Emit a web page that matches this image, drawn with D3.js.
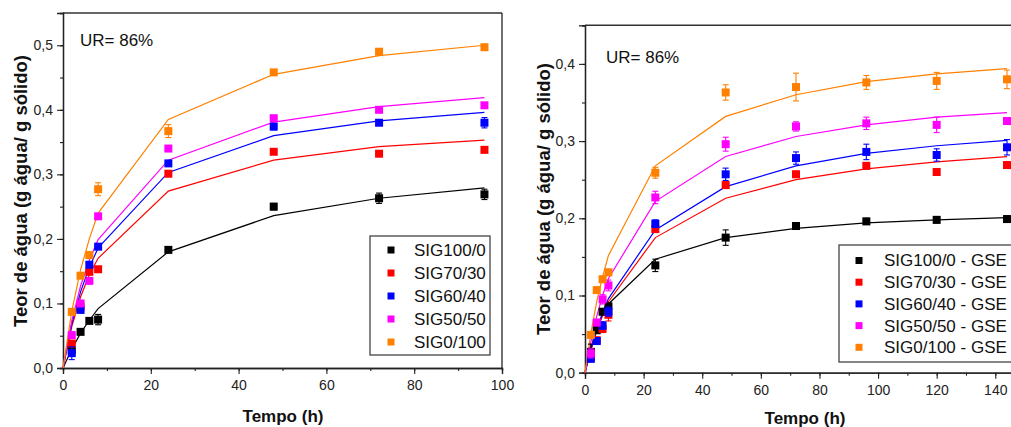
<!DOCTYPE html>
<html><head><meta charset="utf-8">
<script src="https://cdn.jsdelivr.net/npm/d3@7"></script>
<style>body{margin:0;background:#fff;} svg{display:block;font-family:"Liberation Sans",Arial,sans-serif;}</style>
</head><body>
<svg id="chart" width="1011" height="427"></svg>
<script>
// ---------- DATA ----------
const seriesNames = ["SIG100/0","SIG70/30","SIG60/40","SIG50/50","SIG0/100"];
const seriesColors = ["#000000","#ff0000","#0000ff","#ff00ff","#ff8000"];

// Left panel (without GSE)
const leftTimes = [2,4,6,8,24,48,72,96];
const leftFitTimes = [0,2,4,6,8,24,48,72,96];
const leftPts = {
  "SIG100/0": [0.028,0.056,0.073,0.075,0.183,0.250,0.263,0.269],
  "SIG70/30": [0.038,0.095,0.149,0.153,0.301,0.335,0.332,0.338],
  "SIG60/40": [0.023,0.090,0.160,0.188,0.317,0.374,0.380,0.380],
  "SIG50/50": [0.051,0.100,0.135,0.235,0.340,0.387,0.400,0.407],
  "SIG0/100": [0.087,0.143,0.175,0.277,0.367,0.458,0.490,0.497]
};
const leftErr = {
  "SIG100/0": [0.005,0.003,0.004,0.008,0.004,0.005,0.008,0.008],
  "SIG70/30": [0.004,0.003,0.004,0.004,0.004,0.004,0.004,0.004],
  "SIG60/40": [0.010,0.004,0.004,0.004,0.004,0.005,0.004,0.008],
  "SIG50/50": [0.004,0.004,0.004,0.004,0.003,0.004,0.004,0.004],
  "SIG0/100": [0.003,0.003,0.004,0.010,0.010,0.004,0.004,0.004]
};
const leftFit = {
  "SIG100/0": [0,0.029,0.054,0.074,0.092,0.180,0.236,0.263,0.279],
  "SIG70/30": [0,0.064,0.110,0.145,0.170,0.274,0.322,0.343,0.353],
  "SIG60/40": [0,0.068,0.118,0.156,0.186,0.303,0.360,0.383,0.396],
  "SIG50/50": [0,0.073,0.127,0.167,0.199,0.322,0.381,0.405,0.419],
  "SIG0/100": [0,0.088,0.152,0.200,0.240,0.385,0.455,0.484,0.500]
};

// Right panel (GSE)
const rightTimes = [2,4,6,8,24,48,72,96,120,144];
const rightFitTimes = [0,2,4,6,8,24,48,72,96,120,144];
const rightPts = {
  "SIG100/0": [0.027,0.055,0.079,0.086,0.139,0.175,0.190,0.196,0.198,0.199],
  "SIG70/30": [0.020,0.042,0.057,0.075,0.186,0.243,0.257,0.268,0.260,0.269],
  "SIG60/40": [0.018,0.041,0.061,0.079,0.193,0.257,0.278,0.286,0.282,0.292],
  "SIG50/50": [0.025,0.065,0.095,0.113,0.227,0.296,0.319,0.323,0.321,0.326],
  "SIG0/100": [0.049,0.107,0.121,0.130,0.259,0.363,0.370,0.376,0.378,0.380]
};
const rightErr = {
  "SIG100/0": [0.010,0.004,0.004,0.004,0.008,0.010,0.004,0.004,0.004,0.004],
  "SIG70/30": [0.004,0.004,0.005,0.008,0.004,0.004,0.004,0.004,0.004,0.004],
  "SIG60/40": [0.004,0.004,0.005,0.006,0.005,0.008,0.008,0.010,0.008,0.010],
  "SIG50/50": [0.006,0.004,0.006,0.007,0.008,0.009,0.006,0.008,0.010,0.004],
  "SIG0/100": [0.004,0.004,0.004,0.004,0.007,0.010,0.018,0.009,0.011,0.012]
};
const rightFit = {
  "SIG100/0": [0,0.032,0.056,0.075,0.089,0.147,0.175,0.187,0.194,0.198,0.201],
  "SIG70/30": [0,0.029,0.054,0.074,0.092,0.175,0.226,0.250,0.264,0.273,0.280],
  "SIG60/40": [0,0.030,0.056,0.078,0.096,0.185,0.241,0.268,0.284,0.294,0.301],
  "SIG50/50": [0,0.040,0.073,0.100,0.122,0.222,0.280,0.306,0.321,0.331,0.337],
  "SIG0/100": [0,0.051,0.092,0.124,0.152,0.268,0.332,0.360,0.377,0.387,0.394]
};

const leftXTicks = [0,20,40,60,80,100];
const leftYTicks = [0,0.1,0.2,0.3,0.4,0.5];
const rightXTicks = [0,20,40,60,80,100,120,140];
const rightYTicks = [0,0.1,0.2,0.3,0.4];
const yTitle = "Teor de água (g água/ g sólido)";
const xTitle = "Tempo (h)";
const urLabel = "UR= 86%";
const leftLegendSuffix = "";
const rightLegendSuffix = " - GSE";

// ---------- DRAW ----------
const svg = d3.select("#chart");
const fmt = d => d3.format(".1f")(d).replace(".", ",");

function panel(cfg) {
  const x = d3.scaleLinear().domain(cfg.xDomain).range(cfg.xRange);
  const y = d3.scaleLinear().domain(cfg.yDomain).range(cfg.yRange);
  const g = svg.append("g");

  // frame
  const [x0, x1] = cfg.xRange, [yb, yt] = cfg.yRange;
  g.append("line").attr("x1", x0).attr("x2", x1).attr("y1", yt).attr("y2", yt)
    .attr("stroke", "#333").attr("stroke-width", 1.6);
  g.append("line").attr("x1", x1).attr("x2", x1).attr("y1", yt).attr("y2", yb)
    .attr("stroke", "#222").attr("stroke-width", 1.3);

  // minor ticks
  const xMinor = d3.range(cfg.xDomain[0], cfg.xDomain[1] + 0.001, 10);
  const yMinor = d3.range(0, cfg.yDomain[1] + 0.0001, 0.05);
  g.append("g").attr("transform", `translate(0,${yb})`)
    .call(d3.axisBottom(x).tickValues(xMinor).tickSize(3).tickFormat(""));
  g.append("g").attr("transform", `translate(${x0},0)`)
    .call(d3.axisLeft(y).tickValues(yMinor).tickSize(3).tickFormat(""));
  // major ticks
  const gx = g.append("g").attr("transform", `translate(0,${yb})`)
    .call(d3.axisBottom(x).tickValues(cfg.xTicks).tickSize(6).tickPadding(6).tickFormat(d3.format("d")));
  const gy = g.append("g").attr("transform", `translate(${x0},0)`)
    .call(d3.axisLeft(y).tickValues(cfg.yTicks).tickSize(6).tickPadding(4).tickFormat(fmt));
  g.selectAll(".domain").attr("stroke", "#222").attr("stroke-width", 1.3);
  g.selectAll(".tick line").attr("stroke", "#222").attr("stroke-width", 1.1);
  [gx, gy].forEach(a => a.selectAll("text").attr("font-size", 14).attr("fill", "#222")
    .attr("font-family", "Liberation Sans, Arial, sans-serif"));

  // fit lines
  const line = d3.line().x(d => x(d[0])).y(d => y(d[1]));
  seriesNames.forEach((n, i) => {
    g.append("path").datum(cfg.fitTimes.map((t, j) => [t, cfg.fit[n][j]]))
      .attr("d", line).attr("fill", "none").attr("stroke", seriesColors[i]).attr("stroke-width", 1.2);
  });
  // points with error bars
  seriesNames.forEach((n, i) => {
    const c = seriesColors[i];
    const data = cfg.times.map((t, j) => ({t, v: cfg.pts[n][j], e: cfg.err[n][j]}));
    const sg = g.append("g");
    sg.selectAll("line.eb").data(data).join("line").attr("class", "eb")
      .attr("x1", d => x(d.t)).attr("x2", d => x(d.t))
      .attr("y1", d => y(d.v - d.e)).attr("y2", d => y(d.v + d.e))
      .attr("stroke", c).attr("stroke-width", 1.1);
    ["lo", "hi"].forEach(k => {
      sg.selectAll("line.cap" + k).data(data).join("line").attr("class", "cap" + k)
        .attr("x1", d => x(d.t) - 3).attr("x2", d => x(d.t) + 3)
        .attr("y1", d => y(k === "lo" ? d.v - d.e : d.v + d.e))
        .attr("y2", d => y(k === "lo" ? d.v - d.e : d.v + d.e))
        .attr("stroke", c).attr("stroke-width", 1.1);
    });
    sg.selectAll("rect").data(data).join("rect")
      .attr("x", d => x(d.t) - 4).attr("y", d => y(d.v) - 4)
      .attr("width", 8).attr("height", 8).attr("fill", c);
  });

  // UR label
  g.append("text").attr("x", cfg.urPos[0]).attr("y", cfg.urPos[1])
    .attr("font-size", 17).attr("fill", "#111").text(urLabel);

  // axis titles
  g.append("text").attr("x", cfg.xTitlePos[0]).attr("y", cfg.xTitlePos[1])
    .attr("text-anchor", "middle").attr("font-weight", "bold").attr("font-size", 17)
    .attr("fill", "#111").text(xTitle);
  g.append("text").attr("transform", `translate(${cfg.yTitlePos[0]},${cfg.yTitlePos[1]}) rotate(-90)`)
    .attr("text-anchor", "middle").attr("font-weight", "bold").attr("font-size", 18.5)
    .attr("fill", "#111").text(yTitle);

  // legend
  const L = cfg.legend;
  g.append("rect").attr("x", L.x).attr("y", L.y).attr("width", L.w).attr("height", L.h)
    .attr("fill", "#fff").attr("stroke", "#444").attr("stroke-width", 1.3);
  seriesNames.forEach((n, i) => {
    const yy = L.y + L.first + i * L.step;
    g.append("rect").attr("x", L.mx - 3.5).attr("y", yy - 3.5).attr("width", 7).attr("height", 7)
      .attr("fill", seriesColors[i]);
    g.append("text").attr("x", L.tx).attr("y", yy).attr("dy", "0.35em")
      .attr("font-size", 17).attr("fill", "#111").text(n + L.suffix);
  });
}

panel({
  xDomain: [0, 100], xRange: [63, 502], yDomain: [0, 0.55], yRange: [368, 13],
  xTicks: leftXTicks, yTicks: leftYTicks, times: leftTimes, pts: leftPts, err: leftErr,
  fitTimes: leftFitTimes, fit: leftFit, urPos: [80, 46], xTitlePos: [283, 422], yTitlePos: [27, 191],
  legend: {x: 370, y: 236, w: 120, h: 119, first: 14, step: 23, mx: 391, tx: 414, suffix: leftLegendSuffix}
});
panel({
  xDomain: [0, 150], xRange: [585, 1024.6], yDomain: [0, 0.45], yRange: [372.7, 25.3],
  xTicks: rightXTicks, yTicks: rightYTicks, times: rightTimes, pts: rightPts, err: rightErr,
  fitTimes: rightFitTimes, fit: rightFit, urPos: [606, 63], xTitlePos: [805, 424], yTitlePos: [550, 199],
  legend: {x: 839, y: 245, w: 190, h: 117, first: 15.5, step: 21.7, mx: 859, tx: 884, suffix: rightLegendSuffix}
});
</script>
</body></html>
